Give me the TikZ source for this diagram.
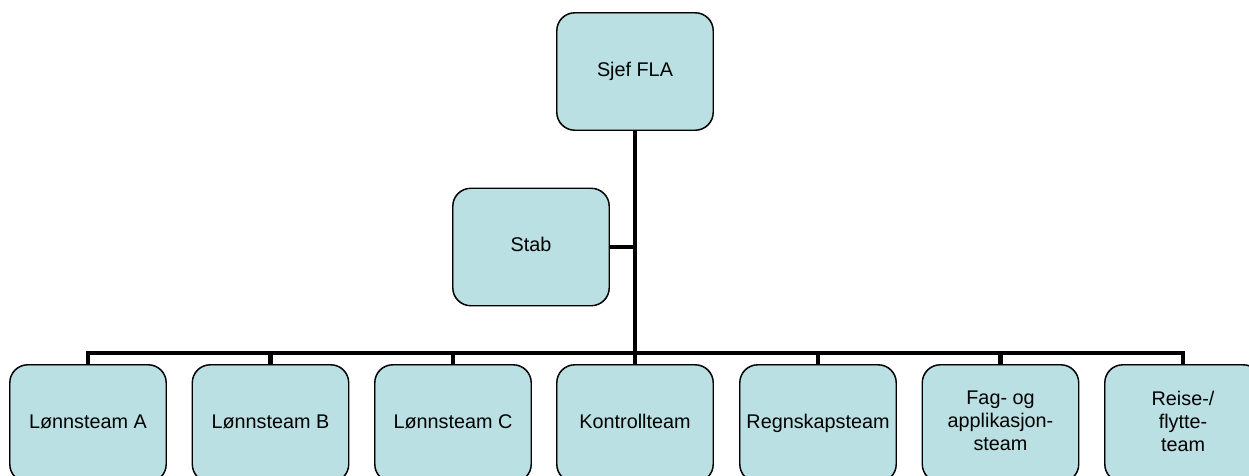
\documentclass[tikz,border=0pt]{standalone}
\usepackage{fontspec}
\setmainfont{Liberation Sans}
\definecolor{boxfill}{RGB}{186,224,227}
\begin{document}
\begin{tikzpicture}[x=1pt,y=-1pt,
  box/.style={draw=black, line width=0.9pt, fill=boxfill, rounded corners=18pt,
    minimum width=156pt, minimum height=117pt, align=center, inner sep=0pt,
    font=\fontsize{19.8}{23}\selectfont,
    execute at begin node={\rule{0pt}{14pt}},
    execute at end node={\rule[-5pt]{0pt}{5pt}}},
  border/.style={line width=0.9pt, rounded corners=18pt},
  conn/.style={line width=4.3pt, line join=miter}]
\useasboundingbox (0,0) rectangle (1249,475);
\clip (0,0) rectangle (1249,475);
\coordinate (bar) at (635,353);
\path (635,71.5) coordinate (sjefc);
\path (531,247) coordinate (stabc);
\foreach \i/\x in {1/88,2/270.5,3/453,4/635,5/818,6/1000.5,7/1183}
  \coordinate (c\i) at (\x,423.5);
\node[box] (sjef) at (sjefc) {Sjef FLA};
\node[box] (stab) at (stabc) {Stab};
\node[box] (b1) at (c1) {Lønnsteam A};
\node[box] (b2) at (c2) {Lønnsteam B};
\node[box] (b3) at (c3) {Lønnsteam C};
\node[box] (b4) at (c4) {Kontrollteam};
\node[box] (b5) at (c5) {Regnskapsteam};
\node[box] (b6) at (c6) {Fag- og\\applikasjon-\\steam};
\node[box] (b7) at (c7) {Reise-/\\flytte-\\team};
\draw[conn] (sjef.south) -- (sjef.south |- bar);
\draw[conn] (stab.east) -- (stab.east -| sjef.south);
\draw[conn] (b1.north) -- (b1.north |- bar) -- (b7.north |- bar) -- (b7.north);
\foreach \i in {2,3,4,5,6}
  \draw[conn] (b\i.north) -- (b\i.north |- bar);
\foreach \n in {sjef,stab,b1,b2,b3,b4,b5,b6,b7}
  \draw[border] (\n.north west) rectangle (\n.south east);
\end{tikzpicture}
\end{document}
